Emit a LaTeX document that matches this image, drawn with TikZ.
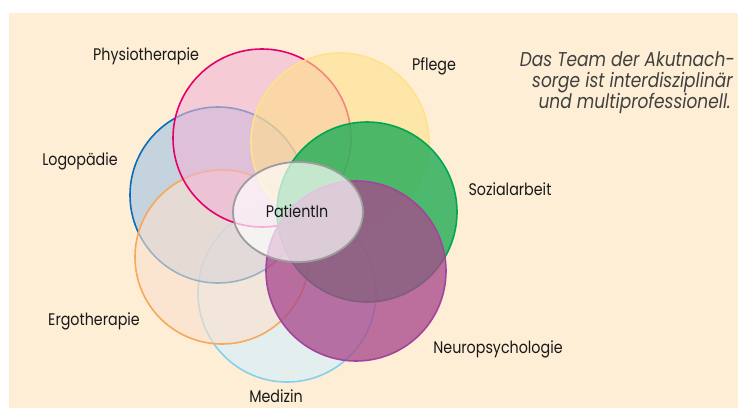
\documentclass[tikz,border=0pt]{standalone}
\usepackage{fontspec}
\setmainfont{Poppins}[FakeStretch=0.85]
\usetikzlibrary{shapes.geometric}
\definecolor{cream}{RGB}{254,238,213}
\definecolor{logoF}{RGB}{159,193,231}\definecolor{logoD}{RGB}{11,109,181}
\definecolor{physF}{RGB}{239,180,213}\definecolor{physD}{RGB}{229,0,109}
\definecolor{pflF}{RGB}{255,223,138}\definecolor{pflD}{RGB}{255,225,143}
\definecolor{ergoF}{RGB}{252,224,205}\definecolor{ergoD}{RGB}{247,168,90}
\definecolor{medF}{RGB}{209,240,255}\definecolor{medD}{RGB}{134,208,238}
\definecolor{sozF}{RGB}{45,176,92}\definecolor{sozD}{RGB}{0,166,81}
\definecolor{neuF}{RGB}{168,72,140}\definecolor{neuD}{RGB}{163,68,156}
\definecolor{patD}{RGB}{157,157,157}
\definecolor{txt}{RGB}{25,25,25}
\tikzset{
  ring/.style={circle,minimum size=#1,inner sep=0pt,line width=1.6pt},
  lbl/.style={font=\fontsize{16.8}{18}\selectfont,text=txt,inner sep=0pt,anchor=base},
  note/.style={font=\fontsize{20}{22}\selectfont\itshape,text={black!75},inner sep=0pt,anchor=base east}
}
\begin{document}
\begin{tikzpicture}[x=1pt,y=-1pt]
\useasboundingbox (0,0) rectangle (738,408);
\fill[white] (0,0) rectangle (738,408);
\fill[cream] (9,13) rectangle (738,408);
\node[ring=178pt,draw=medD,fill=medF,fill opacity=0.6] (med) at (287,293) {};
\node[ring=176pt,draw=logoD,fill=logoF,fill opacity=0.6] (logo) at (218,195) {};
\node[ring=174pt,draw=ergoD,fill=ergoF,fill opacity=0.6] (ergo) at (222,257) {};
\node[ring=178pt,draw=physD,fill=physF,fill opacity=0.6] (phys) at (262,138) {};
\node[ring=178pt,draw=pflD,fill=pflF,fill opacity=0.6] (pfl) at (340,142) {};
\node[ring=180pt,draw=sozD,fill=sozF,fill opacity=0.85] (soz) at (367,212) {};
\node[ring=180pt,draw=neuD,fill=neuF,fill opacity=0.76] (neu) at (356,271) {};
\node[ellipse,minimum width=130pt,minimum height=100pt,inner sep=0pt,line width=1.8pt,draw=patD,fill=white,fill opacity=0.68] (pat) at (298,212) {};
\node[lbl] (tpat) at (297,217) {PatientIn};
\node[lbl] (tphys) at (146,60) {Physiotherapie};
\node[lbl] (tpfl) at (434,70) {Pflege};
\node[lbl] (tlogo) at (80,165.5) {Logopädie};
\node[lbl] (tsoz) at (510,195) {Sozialarbeit};
\node[lbl] (tergo) at (94,325) {Ergotherapie};
\node[lbl] (tneu) at (498,353) {Neuropsychologie};
\node[lbl] (tmed) at (276,402) {Medizin};
\node[note] (n1) at (735,66) {Das Team der Akutnach-};
\node[note] (n2) at (733,87) {sorge ist interdisziplinär};
\node[note] (n3) at (731,108) {und multiprofessionell.};
\end{tikzpicture}
\end{document}
